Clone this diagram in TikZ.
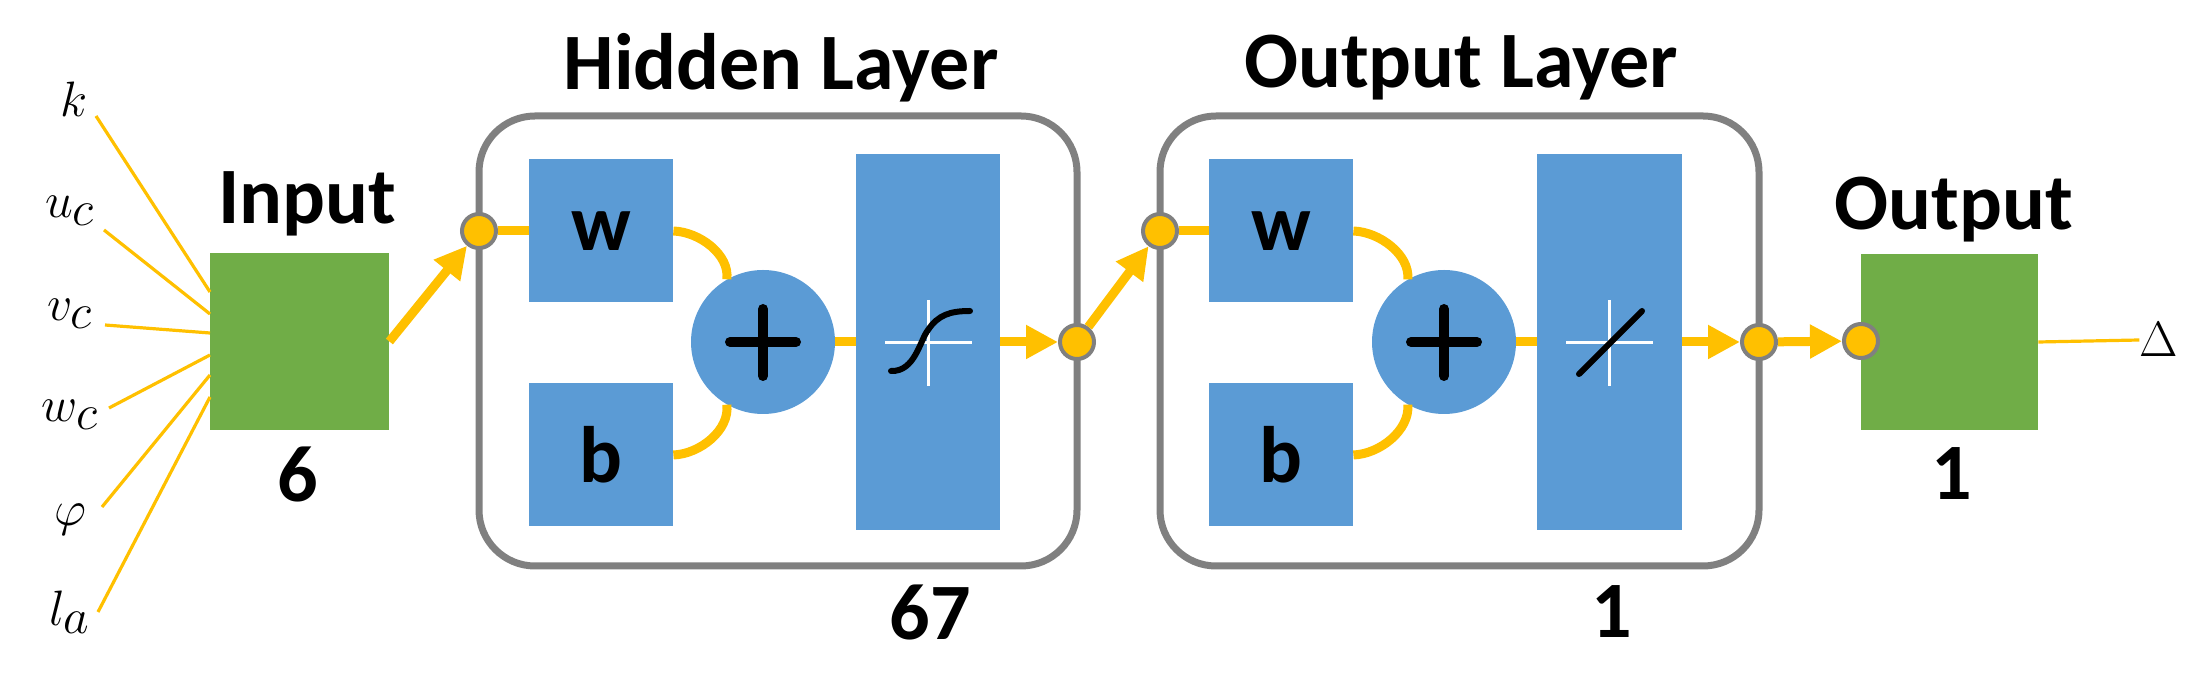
\documentclass[tikz,border=0pt]{standalone}
\usepackage{fontspec}
\setmainfont{Carlito}
\usetikzlibrary{arrows.meta}
\definecolor{blu}{HTML}{5B9BD5}
\definecolor{grn}{HTML}{70AD47}
\definecolor{org}{HTML}{FFC000}
\definecolor{gry}{HTML}{808080}
\begin{document}
\begin{tikzpicture}[x=0.5pt,y=-0.5pt,
  lbl/.style={font=\fontsize{40}{40}\selectfont\bfseries,inner sep=0},
  mth/.style={font=\fontsize{40}{40}\selectfont,inner sep=0},
  blk/.style={fill=blu,draw=none},
  port/.style={circle,fill=org,draw=gry,line width=2pt,minimum size=17pt,inner sep=0},
  ol/.style={org,line width=4.5pt},
  arr/.style={org,line width=4.5pt,-{Triangle[length=16pt,width=16pt]}},
  thin/.style={org,line width=1.6pt},
  frame/.style={draw=gry,line width=3.5pt,rounded corners=28pt}]
\useasboundingbox (0,0) rectangle (2195,688);
% input
\node[fill=grn,minimum width=89.5pt,minimum height=88.5pt,inner sep=0] (in) at (299.5,341.5) {};
\node[lbl] (intxt) at (307,204) {Input};
\node[lbl] (six) at (298,474) {6};
\node[mth] (k) at (74,99) {$k$};
\node[mth] (uc) at (70,211) {$u_c$};
\node[mth] (vc) at (70,314) {$v_c$};
\node[mth] (wc) at (70,415) {$w_c$};
\node[mth] (ph) at (70,520) {$\varphi$};
\node[mth] (la) at (70,612) {$l_a$};
\coordinate (k1) at (96,116); \coordinate (k2) at (210,292);
\coordinate (u1) at (104,230); \coordinate (u2) at (210,314);
\coordinate (v1) at (105,325); \coordinate (v2) at (210,333);
\coordinate (w1) at (109,408); \coordinate (w2) at (210,355);
\coordinate (p1) at (102,507); \coordinate (p2) at (210,375);
\coordinate (l1) at (98,612); \coordinate (l2) at (210,397);
\draw[thin] (k1)--(k2); \draw[thin] (u1)--(u2); \draw[thin] (v1)--(v2);
\draw[thin] (w1)--(w2); \draw[thin] (p1)--(p2); \draw[thin] (l1)--(l2);
% hidden layer
\node[lbl] (htxt) at (781,68) {Hidden Layer};
\draw[frame] (479,116) rectangle (1077,566);
\node[blk,minimum width=72pt,minimum height=71.5pt,inner sep=0,lbl] (hw) at (601,231) {w};
\node[blk,minimum width=72pt,minimum height=71.5pt,inner sep=0,lbl] (hb) at (601,455) {b};
\node[circle,fill=blu,minimum size=72pt,inner sep=0] (hp) at (763,342) {};
\node[fill=blu,minimum width=72pt,minimum height=188pt,inner sep=0] (hs) at (928,342) {};
\draw[black,line width=5pt,line cap=round] (730,342)--(796,342) (763,309)--(763,376);
\draw[white,line width=1.5pt] (885,343)--(972,343) (928,300)--(928,386);
\draw[black,line width=3pt,line cap=round] (891,371) .. controls (915,372) and (920,340) .. (928,330) .. controls (938,315) and (950,311) .. (970,311);
\node[port] (hin) at (479,231) {};
\node[port] (hout) at (1077,342) {};
\draw[ol] (hin)--(hw.west);
\draw[ol] (hw.east) .. controls (700,232) and (730,255) .. (hp.120);
\draw[ol] (hb.east) .. controls (700,454) and (730,430) .. (hp.240);
\draw[ol] (hp.east)--(hs.west);
\draw[arr] (hs.east)--(hout);
\draw[arr] (in.east)--(hin);
% output layer
\node[lbl] (otxt) at (1461,68) {Output Layer};
\draw[frame] (1160,116) rectangle (1759,566);
\node[blk,minimum width=72pt,minimum height=71.5pt,inner sep=0,lbl] (ow) at (1281,231) {w};
\node[blk,minimum width=72pt,minimum height=71.5pt,inner sep=0,lbl] (ob) at (1281,455) {b};
\node[circle,fill=blu,minimum size=72pt,inner sep=0] (op) at (1444,342) {};
\node[fill=blu,minimum width=72.5pt,minimum height=188pt,inner sep=0] (os) at (1609.5,342) {};
\draw[black,line width=5pt,line cap=round] (1411,342)--(1477,342) (1444,309)--(1444,376);
\draw[white,line width=1.5pt] (1566,343)--(1653,343) (1609,300)--(1609,386);
\draw[black,line width=3pt,line cap=round] (1579,374)--(1642,311);
\node[port] (oin) at (1160,231) {};
\node[port] (oout) at (1759,342) {};
\draw[ol] (oin)--(ow.west);
\draw[ol] (ow.east) .. controls (1380,232) and (1410,255) .. (op.120);
\draw[ol] (ob.east) .. controls (1380,454) and (1410,430) .. (op.240);
\draw[ol] (op.east)--(os.west);
\draw[arr] (os.east)--(oout);
\draw[arr] (hout)--(oin);
\node[lbl] (one1) at (1612,612) {1};
\node[lbl] (sixseven) at (930,612) {67};
% output
\node[fill=grn,minimum width=88.5pt,minimum height=88pt,inner sep=0] (out) at (1949.5,342) {};
\node[port] (outp) at (1861,341) {};
\draw[arr] (oout)--(outp);
\node[lbl] (outtxt) at (1954,210) {Output};
\node[lbl] (one2) at (1952,474) {1};
\node[mth] (del) at (2159,340) {$\Delta$};
\draw[thin] (out.east)--(del.west);
\end{tikzpicture}
\end{document}
